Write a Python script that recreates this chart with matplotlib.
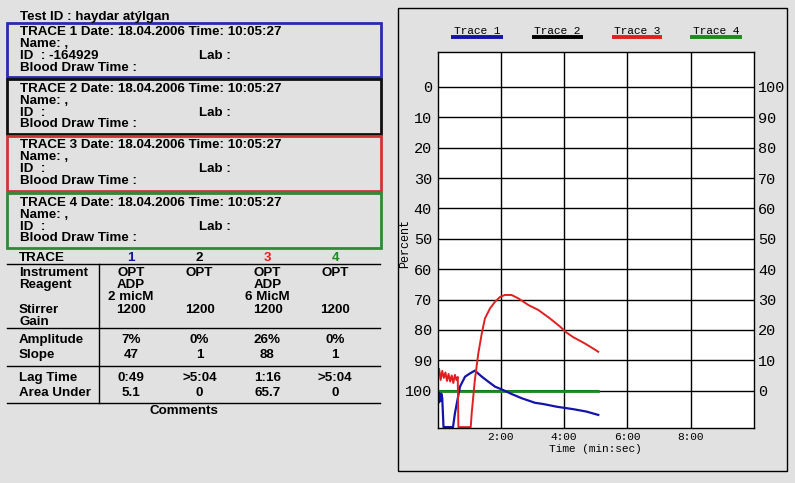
import matplotlib
matplotlib.use('Agg')
import matplotlib.pyplot as plt
from matplotlib.patches import Rectangle

# ---- data ----
test_id = 'Test ID : haydar atýlgan'
trace_names = ['Trace 1', 'Trace 2', 'Trace 3', 'Trace 4']
trace_colors = ['#1414a8', '#000000', '#e02020', '#1f8a1f']
box_colors = ['#2a2ab0', '#101010', '#d03535', '#2f8a35']
trace_date = '18.04.2006'
trace_time = '10:05:27'
trace_ids = ['-164929', '', '', '']

instrument = ['OPT', 'OPT', 'OPT', 'OPT']
reagent = ['ADP', '', 'ADP', '']
concentration = ['2 micM', '', '6 MicM', '']
stirrer = ['1200', '1200', '1200', '1200']
amplitude = ['7%', '0%', '26%', '0%']
slope = ['47', '1', '88', '1']
lag_time = ['0:49', '>5:04', '1:16', '>5:04']
area_under = ['5.1', '0', '65.7', '0']

# time in minutes, percent aggregation
t1 = [0.0, 0.03, 0.06, 0.09, 0.12, 0.15, 0.19, 0.49, 0.55, 0.71, 0.87, 1.03, 1.18, 1.40,
      1.60, 1.82, 2.03, 2.34, 2.66, 3.08, 3.34, 3.77, 4.29, 4.71, 5.08]
v1 = [100.5, 104.0, 100.8, 103.5, 101.0, 102.5, 112.0, 112.0, 107.5, 98.7, 95.4, 94.3, 93.4, 95.4,
      97.0, 98.7, 99.6, 101.1, 102.5, 104.0, 104.4, 105.3, 106.1, 106.9, 108.0]
t2 = [0.0, 5.08]
v2 = [100.0, 100.0]
t3 = [0.0, 0.05, 0.1, 0.15, 0.2, 0.25, 0.3, 0.35, 0.4, 0.45, 0.5, 0.55, 0.6, 0.64, 0.66,
      1.05, 1.08, 1.18, 1.29, 1.40, 1.50,
      1.66, 1.82, 1.97, 2.13, 2.34, 2.55, 2.87, 3.18, 3.55, 3.87, 4.08, 4.29, 4.61, 4.82, 5.08]
v3 = [94.5, 92.8, 96.5, 93.5, 95.8, 94.0, 96.8, 94.5, 97.0, 95.0, 97.5, 94.8, 96.5, 95.5, 112.0,
      112.0, 107.5, 96.5, 87.7, 81.1, 76.2,
      72.9, 70.7, 69.2, 68.5, 68.5, 69.6, 71.8, 73.4, 76.2, 78.9, 80.9, 82.4, 84.2, 85.5, 87.2]
t4 = [0.0, 5.08]
v4 = [100.1, 100.1]

x_ticks = [2, 4, 6, 8]
x_tick_labels = ['2:00', '4:00', '6:00', '8:00']
y_ticks = [0, 10, 20, 30, 40, 50, 60, 70, 80, 90, 100]

bg_color = '#e1e1e1'
sans = 'Liberation Sans'
mono = 'Liberation Mono'

fig = plt.figure(figsize=(7.95, 4.83), dpi=100, facecolor=bg_color)

# background axes in pixel coordinates for the report text
bg = fig.add_axes([0, 0, 1, 1])
bg.set_xlim(0, 795)
bg.set_ylim(483, 0)
bg.axis('off')

fs = 9.6
bg.text(20, 19.8, test_id, fontsize=fs, fontweight='bold', family=sans)

box_tops = [22.7, 79.3, 136.0, 193.3]
for i in range(4):
    top = box_tops[i]
    bg.add_patch(Rectangle((6.7, top), 374, 54.8, fill=False, edgecolor=box_colors[i], lw=2))
    bg.text(20, top + 12.5, 'TRACE %d Date: %s Time: %s' % (i + 1, trace_date, trace_time),
            fontsize=fs, fontweight='bold', family=sans)
    bg.text(20, top + 24.2, 'Name: ,', fontsize=fs, fontweight='bold', family=sans)
    bg.text(20, top + 36.2, 'ID  : ' + trace_ids[i], fontsize=fs, fontweight='bold', family=sans)
    bg.text(198.7, top + 36.2, 'Lab :', fontsize=fs, fontweight='bold', family=sans)
    bg.text(20, top + 48.0, 'Blood Draw Time :', fontsize=fs, fontweight='bold', family=sans)

# results table
col_x = [131, 199.5, 267.5, 335]
bg.text(19, 261, 'TRACE', fontsize=fs, fontweight='bold', family=sans)
for i in range(4):
    bg.text(col_x[i], 261, str(i + 1), fontsize=fs, fontweight='bold', family=sans,
            ha='center', color=trace_colors[i])

rows = [
    ('Instrument', instrument, 275.5),
    ('Reagent', reagent, 288.0),
    ('', concentration, 300.0),
    ('Stirrer', stirrer, 313.0),
    ('Gain', ['', '', '', ''], 325.0),
    ('Amplitude', amplitude, 343.0),
    ('Slope', slope, 358.0),
    ('Lag Time', lag_time, 381.0),
    ('Area Under', area_under, 395.5),
]
for label, vals, y in rows:
    bg.text(19, y, label, fontsize=fs, fontweight='bold', family=sans)
    for i in range(4):
        bg.text(col_x[i], y, vals[i], fontsize=fs, fontweight='bold', family=sans, ha='center')

for y in [264.3, 328.3, 365.7, 403.3]:
    bg.plot([6.7, 380], [y, y], color='black', lw=1)
bg.plot([99.3, 99.3], [264.3, 403.3], color='black', lw=1)
bg.text(184, 414.5, 'Comments', fontsize=fs, fontweight='bold', family=sans, ha='center')

# chart panel frame
bg.add_patch(Rectangle((397.7, 8.3), 389, 462.7, fill=False, edgecolor='black', lw=1))

# legend
leg_x = [(451, 502.7), (532.3, 582.7), (611.7, 661.7), (690, 741.7)]
for i in range(4):
    x0, x1 = leg_x[i]
    bg.text((x0 + x1) / 2, 31, trace_names[i], fontsize=8, family=mono, ha='center', va='center')
    bg.plot([x0, x1], [37.3, 37.3], color=trace_colors[i], lw=2.8, solid_capstyle='butt')

bg.text(405, 243, 'Percent', fontsize=8.5, family=mono, rotation=90, ha='center', va='center')

# ---- aggregation chart ----
ax = fig.add_axes([437.5 / 795, 1 - 428 / 483, 316.5 / 795, 376 / 483])
ax.set_facecolor('white')
ax.set_xlim(0, 10)
ax.set_ylim(112.3, -11.5)
ax.set_xticks(x_ticks)
ax.set_xticklabels(x_tick_labels, fontsize=8, family=mono)
ax.set_yticks(y_ticks)
ax.set_yticklabels([str(v) for v in y_ticks], fontsize=11, family=mono)
ax.tick_params(length=0, pad=4)
ax.tick_params(axis='x', pad=3)
ax.grid(True, color='black', lw=1)
ax.set_axisbelow(True)
for s in ax.spines.values():
    s.set_color('black')
    s.set_linewidth(1)
ax.set_xlabel('Time (min:sec)', fontsize=8, family=mono, labelpad=1)

ax.plot(t2, v2, color=trace_colors[1], lw=1.5)
ax.plot(t4, v4, color=trace_colors[3], lw=2.0)
ax.plot(t1, v1, color=trace_colors[0], lw=1.6)
ax.plot(t3, v3, color=trace_colors[2], lw=1.4)

ax2 = ax.twinx()
ax2.set_ylim(100 - 112.3, 100 + 11.5)
ax2.set_yticks(y_ticks)
ax2.set_yticklabels([str(v) for v in y_ticks], fontsize=11, family=mono)
ax2.tick_params(length=0, pad=3)
for s in ax2.spines.values():
    s.set_visible(False)

fig.savefig('out.png', dpi=100, facecolor=bg_color)
